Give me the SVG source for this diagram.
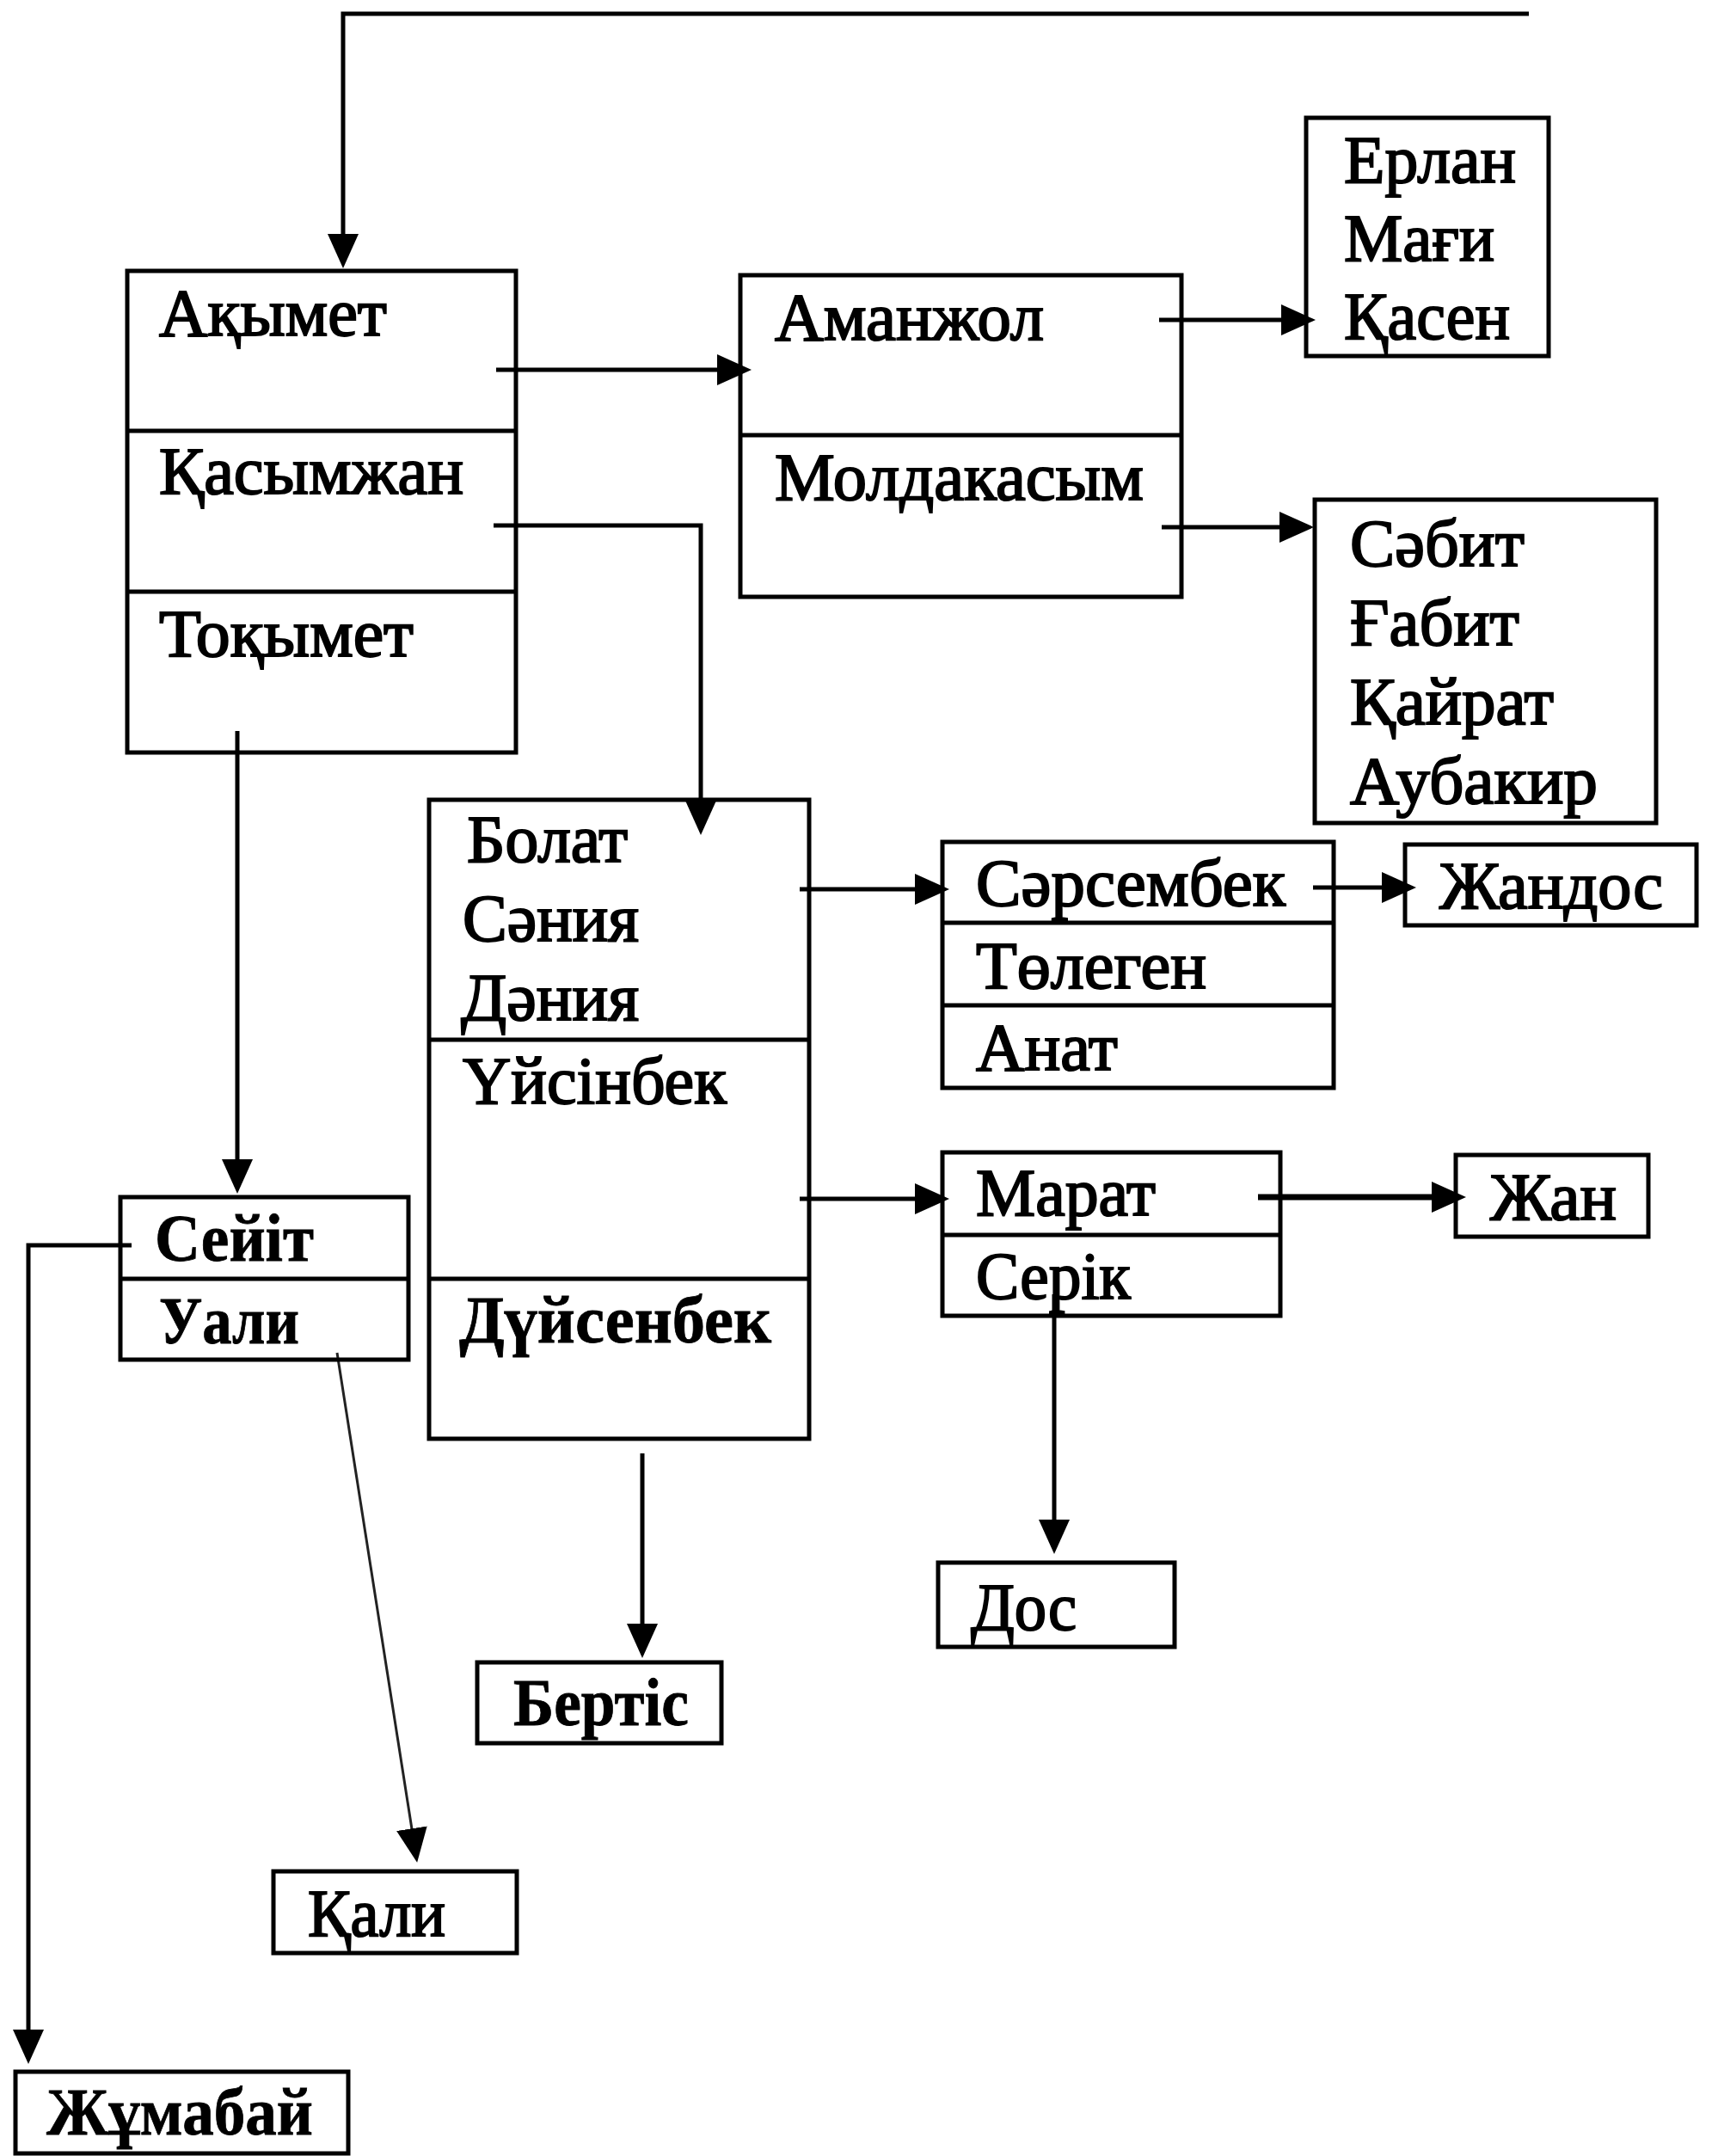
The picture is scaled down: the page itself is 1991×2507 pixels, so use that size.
<svg xmlns="http://www.w3.org/2000/svg" width="1991" height="2507" viewBox="0 0 1991 2507">
<style>
.box{fill:none;stroke:#000;stroke-width:5}
.div{stroke:#000;stroke-width:5}
.t{font-family:"Liberation Serif","Times New Roman",serif;font-size:78px;fill:#000;stroke:#000;stroke-width:2}
.b{font-weight:bold;stroke-width:0.8}
.c{fill:none;stroke:#000;stroke-width:5}
.thick{stroke-width:7}
.thin{stroke-width:3;stroke:#222}
</style>
<defs>
<marker id="ah" markerUnits="userSpaceOnUse" markerWidth="42" markerHeight="38" refX="20" refY="18" orient="auto" viewBox="0 0 42 38">
<path d="M0,0 L40,18 L0,36 z" fill="#000"/>
</marker>
</defs>
<rect width="1991" height="2507" fill="#fff"/>

<g id="connectors">
<polyline class="c" points="1778,16 399,16 399,292" marker-end="url(#ah)"/>
<line class="c" x1="577" y1="430" x2="854" y2="430" marker-end="url(#ah)"/>
<polyline class="c" points="574,611 815,611 815,951" marker-end="url(#ah)"/>
<line class="c" x1="276" y1="850" x2="276" y2="1368" marker-end="url(#ah)"/>
<line class="c" x1="1348" y1="372" x2="1510" y2="372" marker-end="url(#ah)"/>
<line class="c" x1="1351" y1="613" x2="1508" y2="613" marker-end="url(#ah)"/>
<line class="c" x1="930" y1="1034" x2="1084" y2="1034" marker-end="url(#ah)"/>
<line class="c" x1="1527" y1="1032" x2="1627" y2="1032" marker-end="url(#ah)"/>
<line class="c" x1="930" y1="1394" x2="1084" y2="1394" marker-end="url(#ah)"/>
<line class="c thick" x1="1463" y1="1392" x2="1685" y2="1392" marker-end="url(#ah)"/>
<line class="c" x1="1226" y1="1505" x2="1226" y2="1787" marker-end="url(#ah)"/>
<line class="c" x1="747" y1="1690" x2="747" y2="1908" marker-end="url(#ah)"/>
<polyline class="c" points="153,1448 33,1448 33,2380" marker-end="url(#ah)"/>
<line class="c thin" x1="392" y1="1573" x2="482" y2="2146" marker-end="url(#ah)"/>
</g>

<g id="node-akymet">
<rect class="box" x="148" y="315" width="452" height="560"/>
<line class="div" x1="148" y1="501" x2="600" y2="501"/>
<line class="div" x1="148" y1="688" x2="600" y2="688"/>
<text class="t" x="185" y="390" textLength="265" lengthAdjust="spacingAndGlyphs">Ақымет</text>
<text class="t" x="185" y="574" textLength="354" lengthAdjust="spacingAndGlyphs">Қасымжан</text>
<text class="t" x="185" y="763" textLength="296" lengthAdjust="spacingAndGlyphs">Тоқымет</text>
</g>

<g id="node-amanzhol">
<rect class="box" x="861" y="320" width="513" height="374"/>
<line class="div" x1="861" y1="506" x2="1374" y2="506"/>
<text class="t" x="901" y="395" textLength="313" lengthAdjust="spacingAndGlyphs">Аманжол</text>
<text class="t" x="901" y="581" textLength="429" lengthAdjust="spacingAndGlyphs">Молдакасым</text>
</g>

<g id="node-erlan">
<rect class="box" x="1519" y="137" width="282" height="277"/>
<text class="t" x="1563" y="212" textLength="200" lengthAdjust="spacingAndGlyphs">Ерлан</text>
<text class="t" x="1563" y="303" textLength="175" lengthAdjust="spacingAndGlyphs">Мағи</text>
<text class="t" x="1563" y="394" textLength="193" lengthAdjust="spacingAndGlyphs">Қасен</text>
</g>

<g id="node-sabit">
<rect class="box" x="1529" y="581" width="397" height="376"/>
<text class="t" x="1570" y="658" textLength="203" lengthAdjust="spacingAndGlyphs">Сәбит</text>
<text class="t" x="1570" y="750" textLength="197" lengthAdjust="spacingAndGlyphs">Ғабит</text>
<text class="t" x="1570" y="842" textLength="237" lengthAdjust="spacingAndGlyphs">Қайрат</text>
<text class="t" x="1570" y="934" textLength="288" lengthAdjust="spacingAndGlyphs">Аубакир</text>
</g>

<g id="node-bolat">
<rect class="box" x="499" y="930" width="442" height="743"/>
<line class="div" x1="499" y1="1209" x2="941" y2="1209"/>
<line class="div" x1="499" y1="1487" x2="941" y2="1487"/>
<text class="t" x="543" y="1002" textLength="187" lengthAdjust="spacingAndGlyphs">Болат</text>
<text class="t" x="538" y="1094" textLength="205" lengthAdjust="spacingAndGlyphs">Сәния</text>
<text class="t" x="536" y="1186" textLength="207" lengthAdjust="spacingAndGlyphs">Дәния</text>
<text class="t" x="538" y="1283" textLength="307" lengthAdjust="spacingAndGlyphs">Үйсінбек</text>
<text class="t b" x="534" y="1561" textLength="363" lengthAdjust="spacingAndGlyphs">Дүйсенбек</text>
</g>

<g id="node-sarsembek">
<rect class="box" x="1096" y="979" width="455" height="286"/>
<line class="div" x1="1096" y1="1073" x2="1551" y2="1073"/>
<line class="div" x1="1096" y1="1169" x2="1551" y2="1169"/>
<text class="t" x="1135" y="1053" textLength="360" lengthAdjust="spacingAndGlyphs">Сәрсембек</text>
<text class="t" x="1135" y="1149" textLength="268" lengthAdjust="spacingAndGlyphs">Төлеген</text>
<text class="t" x="1135" y="1244" textLength="165" lengthAdjust="spacingAndGlyphs">Анат</text>
</g>

<g id="node-zhandos">
<rect class="box" x="1634" y="982" width="339" height="94"/>
<text class="t" x="1674" y="1056" textLength="260" lengthAdjust="spacingAndGlyphs">Жандос</text>
</g>

<g id="node-marat">
<rect class="box" x="1096" y="1340" width="393" height="190"/>
<line class="div" x1="1096" y1="1436" x2="1489" y2="1436"/>
<text class="t" x="1135" y="1413" textLength="209" lengthAdjust="spacingAndGlyphs">Марат</text>
<text class="t" x="1135" y="1510" textLength="180" lengthAdjust="spacingAndGlyphs">Серік</text>
</g>

<g id="node-zhan">
<rect class="box" x="1693" y="1343" width="224" height="95"/>
<text class="t" x="1733" y="1418" textLength="147" lengthAdjust="spacingAndGlyphs">Жан</text>
</g>

<g id="node-seyit">
<rect class="box" x="140" y="1392" width="335" height="189"/>
<line class="div" x1="140" y1="1487" x2="475" y2="1487"/>
<text class="t b" x="180" y="1466" textLength="185" lengthAdjust="spacingAndGlyphs">Сейіт</text>
<text class="t b" x="185" y="1562" textLength="163" lengthAdjust="spacingAndGlyphs">Уали</text>
</g>

<g id="node-dos">
<rect class="box" x="1091" y="1817" width="275" height="98"/>
<text class="t" x="1129" y="1895" textLength="123" lengthAdjust="spacingAndGlyphs">Дос</text>
</g>

<g id="node-bertis">
<rect class="box" x="555" y="1933" width="284" height="94"/>
<text class="t b" x="597" y="2006" textLength="204" lengthAdjust="spacingAndGlyphs">Бертіс</text>
</g>

<g id="node-kali">
<rect class="box" x="318" y="2176" width="283" height="95"/>
<text class="t" x="358" y="2251" textLength="160" lengthAdjust="spacingAndGlyphs">Қали</text>
</g>

<g id="node-zhumabay">
<rect class="box" x="18" y="2409" width="387" height="95"/>
<text class="t b" x="54" y="2482" textLength="310" lengthAdjust="spacingAndGlyphs">Жұмабай</text>
</g>
</svg>
